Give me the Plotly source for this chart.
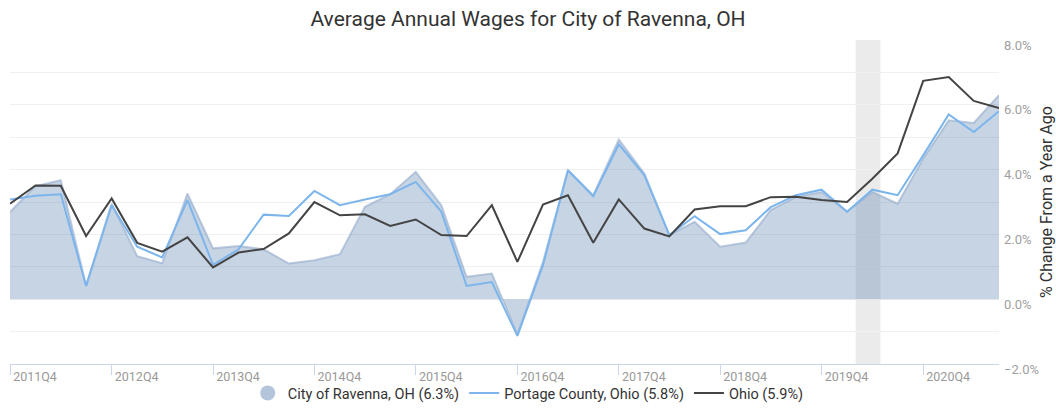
import plotly.graph_objects as go
import pandas as pd

quarters = ["2011Q4", "2012Q1", "2012Q2", "2012Q3", "2012Q4", "2013Q1", "2013Q2", "2013Q3",
            "2013Q4", "2014Q1", "2014Q2", "2014Q3", "2014Q4", "2015Q1", "2015Q2", "2015Q3",
            "2015Q4", "2016Q1", "2016Q2", "2016Q3", "2016Q4", "2017Q1", "2017Q2", "2017Q3",
            "2017Q4", "2018Q1", "2018Q2", "2018Q3", "2018Q4", "2019Q1", "2019Q2", "2019Q3",
            "2019Q4", "2020Q1", "2020Q2", "2020Q3", "2020Q4", "2021Q1", "2021Q2", "2021Q3"]

ravenna = [2.69, 3.49, 3.67, 0.42, 2.95, 1.33, 1.11, 3.26, 1.57, 1.64,
           1.54, 1.10, 1.20, 1.39, 2.85, 3.24, 3.93, 2.90, 0.69, 0.79,
           -1.10, 1.15, 3.98, 3.21, 4.93, 3.88, 1.98, 2.39, 1.62, 1.75,
           2.75, 3.16, 3.31, 2.70, 3.31, 2.95, 4.34, 5.52, 5.44, 6.30]
portage = [3.08, 3.19, 3.24, 0.41, 2.90, 1.62, 1.29, 3.06, 1.06, 1.54,
           2.61, 2.57, 3.34, 2.90, 3.08, 3.24, 3.62, 2.70, 0.41, 0.53,
           -1.13, 1.05, 3.98, 3.18, 4.78, 3.83, 1.98, 2.56, 2.01, 2.13,
           2.84, 3.21, 3.38, 2.70, 3.38, 3.21, 4.44, 5.70, 5.16, 5.80]
ohio = [2.95, 3.51, 3.50, 1.95, 3.11, 1.74, 1.47, 1.91, 0.98, 1.44,
        1.55, 2.03, 3.00, 2.59, 2.62, 2.26, 2.46, 1.98, 1.95, 2.90,
        1.15, 2.92, 3.21, 1.74, 3.08, 2.18, 1.94, 2.77, 2.87, 2.87,
        3.15, 3.16, 3.06, 3.00, 3.72, 4.50, 6.74, 6.86, 6.12, 5.90]

series_names = ["City of Ravenna, OH (6.3%)", "Portage County, Ohio (5.8%)", "Ohio (5.9%)"]
recession = ("2020-02-01", "2020-04-30")
title = "Average Annual Wages for City of Ravenna, OH"
y_title = "% Change From a Year Ago"

dates = [pd.Period(q, freq="Q").start_time for q in quarters]
tick_labels = [q for q in quarters if q.endswith("Q4")]
tick_vals = [pd.Period(q, freq="Q").start_time for q in tick_labels]

FONT = "Roboto, Arial, sans-serif"

fig = go.Figure()
fig.add_trace(go.Scatter(
    x=dates, y=ravenna, mode="lines", fill="tozeroy",
    fillcolor="rgba(69,114,167,0.30)", line=dict(color="rgba(140,165,200,0.55)", width=2),
    name=series_names[0], showlegend=False))
fig.add_trace(go.Scatter(
    x=[None], y=[None], mode="markers",
    marker=dict(symbol="circle", size=15, color="#b4c4da"),
    name=series_names[0], showlegend=True))
fig.add_trace(go.Scatter(
    x=dates, y=portage, mode="lines", line=dict(color="#7cb5ec", width=2),
    name=series_names[1]))
fig.add_trace(go.Scatter(
    x=dates, y=ohio, mode="lines", line=dict(color="#444444", width=2),
    name=series_names[2]))

fig.add_shape(type="rect", xref="x", yref="paper", x0=recession[0], x1=recession[1],
              y0=0, y1=1, fillcolor="#ebebeb", line=dict(width=0), layer="below")

fig.update_layout(
    width=1056, height=411,
    margin=dict(l=10, r=57, t=40, b=47, autoexpand=False),
    paper_bgcolor="white", plot_bgcolor="white",
    font=dict(family=FONT, color="#333333"),
    title=dict(text=title, x=0.5, xref="container", xanchor="center",
               y=0.955, yanchor="middle", yref="container",
               font=dict(size=21, color="#333333", family=FONT)),
    showlegend=True,
    legend=dict(orientation="h", x=0.524, xref="paper", xanchor="center",
                y=-0.04, yref="paper", yanchor="top", font=dict(size=14.5, color="#333333"),
                itemwidth=30, tracegroupgap=0, bgcolor="rgba(0,0,0,0)"),
    xaxis=dict(type="date", range=[dates[0], dates[-1]],
               tickmode="array", tickvals=tick_vals, ticktext=tick_labels,
               tickangle=0, automargin=False,
               ticks="outside", ticklen=10, tickcolor="#ccd6eb",
               showline=True, linecolor="#ccd6eb", linewidth=1,
               showgrid=False, zeroline=False,
               ticklabelshift=25, ticklabelstandoff=-9,
               tickfont=dict(size=12.5, color="#999999")),
    yaxis=dict(side="right", range=[-2, 8], dtick=2, tick0=0, automargin=False,
               tickformat=".1f", ticksuffix="%",
               showgrid=True, gridcolor="#f0f0f0", gridwidth=1,
               minor=dict(dtick=1, showgrid=True, gridcolor="#f0f0f0", gridwidth=1),
               zeroline=False, showline=False, ticks="",
               ticklabelshift=5, ticklabelstandoff=4,
               tickfont=dict(size=13, color="#a0a0a0"),
               title=dict(text=y_title, font=dict(size=16, color="#333333"), standoff=5)),
)

fig.write_html("out.html", config={"displayModeBar": False},
               post_script="document.body.style.margin='0px';document.body.style.overflow='hidden';")
